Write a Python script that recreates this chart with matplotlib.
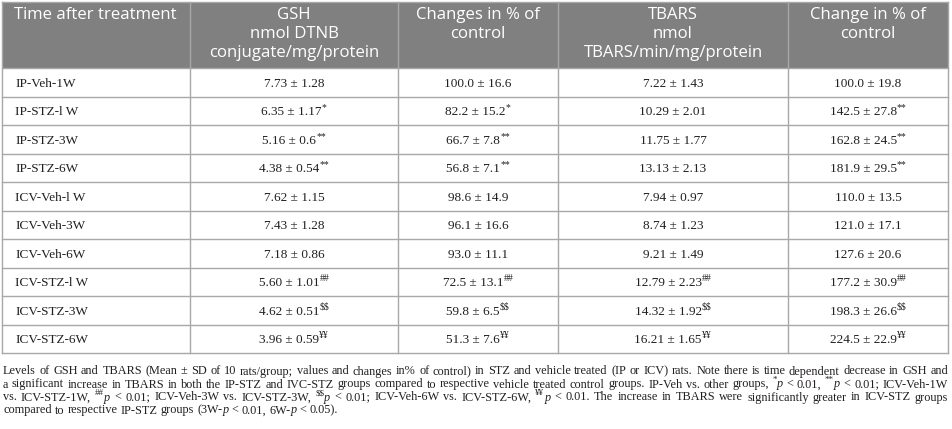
import re
import matplotlib.pyplot as plt
from matplotlib.patches import Rectangle

plt.rcParams['font.family'] = ['Liberation Serif', 'DejaVu Serif']

# dane tabeli
headers = ["Time after treatment",
           "GSH\nnmol DTNB\nconjugate/mg/protein",
           "Changes in % of\ncontrol",
           "TBARS\nnmol\nTBARS/min/mg/protein",
           "Change in % of\ncontrol"]

groups = ["IP-Veh-1W", "IP-STZ-l W", "IP-STZ-3W", "IP-STZ-6W",
          "ICV-Veh-l W", "ICV-Veh-3W", "ICV-Veh-6W",
          "ICV-STZ-l W", "ICV-STZ-3W", "ICV-STZ-6W"]

marks = ["", "*", "**", "**", "", "", "", "##", "$$", "¥¥"]
tbars_marks = ["", "", "", "", "", "", "", "##", "$$", "¥¥"]
tbars_pct_marks = ["", "**", "**", "**", "", "", "", "##", "$$", "¥¥"]

gsh_mean = ["7.73", "6.35", "5.16", "4.38", "7.62", "7.43", "7.18", "5.60", "4.62", "3.96"]
gsh_sd = ["1.28", "1.17", "0.6", "0.54", "1.15", "1.28", "0.86", "1.01", "0.51", "0.59"]

gsh_pct_mean = ["100.0", "82.2", "66.7", "56.8", "98.6", "96.1", "93.0", "72.5", "59.8", "51.3"]
gsh_pct_sd = ["16.6", "15.2", "7.8", "7.1", "14.9", "16.6", "11.1", "13.1", "6.5", "7.6"]

tbars_mean = ["7.22", "10.29", "11.75", "13.13", "7.94", "8.74", "9.21", "12.79", "14.32", "16.21"]
tbars_sd = ["1.43", "2.01", "1.77", "2.13", "0.97", "1.23", "1.49", "2.23", "1.92", "1.65"]

tbars_pct_mean = ["100.0", "142.5", "162.8", "181.9", "110.0", "121.0", "127.6", "177.2", "198.3", "224.5"]
tbars_pct_sd = ["19.8", "27.8", "24.5", "29.5", "13.5", "17.1", "20.6", "30.9", "26.6", "22.9"]

# podpis: <sup>..</sup> = indeks gorny, <i>..</i> = kursywa
caption = [
    "Levels of GSH and TBARS (Mean ± SD of 10 rats/group; values and changes in% of control) in STZ and vehicle treated (IP or ICV) rats. Note there is time dependent decrease in GSH and",
    "a significant increase in TBARS in both the IP-STZ and IVC-STZ groups compared to respective vehicle treated control groups. IP-Veh vs. other groups, <sup>*</sup><i>p</i> < 0.01, <sup>**</sup><i>p</i> < 0.01; ICV-Veh-1W",
    "vs. ICV-STZ-1W, <sup>##</sup><i>p</i> < 0.01; ICV-Veh-3W vs. ICV-STZ-3W, <sup>$$</sup><i>p</i> < 0.01; ICV-Veh-6W vs. ICV-STZ-6W, <sup>¥¥</sup><i>p</i> < 0.01. The increase in TBARS were significantly greater in ICV-STZ groups",
    "compared to respective IP-STZ groups (3W-<i>p</i> < 0.01, 6W-<i>p</i> < 0.05).",
]

# geometria (piksele)
W, H = 952, 429
x_edges = [2, 190, 398, 558, 788, 948]
header_top, header_bot = 2, 68
row_h = 28.5
grey = "#808080"
line_c = "#a8a8a8"
txt_c = "#231f20"
body_fs = 9.5
cap_fs = 8.8
head_fs = 12.1

fig = plt.figure(figsize=(W / 100, H / 100), dpi=100)
ax = fig.add_axes([0, 0, 1, 1])
ax.set_xlim(0, W)
ax.set_ylim(H, 0)
ax.axis("off")
renderer = fig.canvas.get_renderer()


def esc(s):
    return s.replace("$", r"\$")


def width(t):
    return t.get_window_extent(renderer).width


def rich(pieces, y, fs, sup_fs, sup_dy):
    """rysuje kawalki tekstu obok siebie, zwraca (obiekty, szerokosc)"""
    objs = []
    total = 0
    for s, kind in pieces:
        if kind == "s":
            t = ax.text(0, y - sup_dy, esc(s), color=txt_c, fontsize=sup_fs,
                        ha="left", va="center_baseline")
        elif kind == "i":
            t = ax.text(0, y, esc(s), color=txt_c, fontsize=fs, style="italic",
                        ha="left", va="center_baseline")
        else:
            t = ax.text(0, y, esc(s), color=txt_c, fontsize=fs,
                        ha="left", va="center_baseline")
        w = width(t)
        objs.append((t, total))
        total += w
    return objs, total


def place(objs, x0):
    for t, off in objs:
        t.set_x(x0 + off)


def parse(word):
    out = []
    for p in re.split(r"(<sup>.*?</sup>|<i>.*?</i>)", word):
        if not p:
            continue
        if p.startswith("<sup>"):
            out.append((p[5:-6], "s"))
        elif p.startswith("<i>"):
            out.append((p[3:-4], "i"))
        else:
            out.append((p, "n"))
    return out


n = len(groups)
table_bot = header_bot + n * row_h

ax.add_patch(Rectangle((x_edges[0], header_top), x_edges[-1] - x_edges[0],
                       header_bot - header_top, color=grey, lw=0))

# linie siatki
for x in x_edges:
    ax.plot([x, x], [header_top, table_bot], color=line_c, lw=1)
for i in range(n + 1):
    y = header_bot + i * row_h
    ax.plot([x_edges[0], x_edges[-1]], [y, y], color=line_c, lw=1)
ax.plot([x_edges[0], x_edges[-1]], [header_top, header_top], color=line_c, lw=1)

# naglowki
ax.text(14, 15, headers[0], color="white", fontsize=head_fs, family="Open Sans",
        ha="left", va="center")
for j in range(1, 5):
    cx = (x_edges[j] + x_edges[j + 1]) / 2
    for k, line in enumerate(headers[j].split("\n")):
        ax.text(cx, 15 + k * 19, line, color="white", fontsize=head_fs,
                family="Open Sans", ha="center", va="center")

cols = [
    (gsh_mean, gsh_sd, marks),
    (gsh_pct_mean, gsh_pct_sd, marks),
    (tbars_mean, tbars_sd, tbars_marks),
    (tbars_pct_mean, tbars_pct_sd, tbars_pct_marks),
]

for i, g in enumerate(groups):
    cy = header_bot + i * row_h + row_h / 2
    ax.text(15, cy, g, color=txt_c, fontsize=body_fs, ha="left",
            va="center_baseline")
    for j, (means, sds, mk) in enumerate(cols):
        cx = (x_edges[j + 1] + x_edges[j + 2]) / 2
        pieces = [(means[i] + " ± " + sds[i], "n")]
        if mk[i]:
            pieces.append((mk[i], "s"))
        objs, tw = rich(pieces, cy, body_fs, 7, 4)
        place(objs, cx - tw / 2)

# odstep miedzy slowami dla ostatniej linii
t1 = ax.text(0, 0, "a b", fontsize=cap_fs)
t2 = ax.text(0, 0, "ab", fontsize=cap_fs)
space_w = width(t1) - width(t2)
t1.remove()
t2.remove()

# podpis - wyjustowany
cap_left, cap_right = 3, 948
cap_y = [370, 383, 396, 409]
for li, line in enumerate(caption):
    y = cap_y[li]
    words = [rich(parse(w), y, cap_fs, 6.5, 4) for w in line.split(" ")]
    if li == len(caption) - 1:
        gap = space_w
    else:
        gap = (cap_right - cap_left - sum(w for _, w in words)) / (len(words) - 1)
    x = cap_left
    for objs, w in words:
        place(objs, x)
        x += w + gap

fig.savefig("out.png", dpi=100)
